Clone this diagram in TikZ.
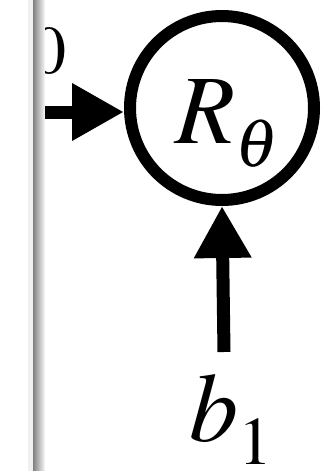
\documentclass[tikz,border=0pt]{standalone}
\usepackage{mathptmx}
\usetikzlibrary{arrows.meta}

\tikzset{
  bigarrow/.style={line width=6.5pt,-{Triangle[length=26pt,width=27pt]}},
  rotor/.style={circle,draw,line width=6pt,minimum size=92pt,inner sep=0pt},
  biglabel/.style={font=\fontsize{49}{56}\selectfont,inner sep=0pt,anchor=base west},
  sublabel/.style={font=\fontsize{34}{40}\selectfont,inner sep=0pt,anchor=base west},
}
\newcommand{\lowsub}[1]{\raisebox{-11.5pt}{\fontsize{34}{40}\selectfont$#1$}}

\begin{document}
\begin{tikzpicture}[x=0.5pt,y=-0.5pt]
\useasboundingbox (0,0) rectangle (323,471);

% ---------------- ROTATION NODE ----------------

\node[rotor] (R) at (222,108) {};
\node[biglabel] (Rlab) at (175,143) {$R$\lowsub{\theta}};

% ---------------- INPUTS ----------------

\coordinate (Lin) at (10,112);
\coordinate (Lend) at (124,112);
\draw[bigarrow] (Lin) -- (Lend);
\node[sublabel] (Lzero) at (32,73) {$0$};

\node[biglabel] (B) at (189,441) {$b$\lowsub{1}};
\coordinate (Bin) at (224,352);
\draw[bigarrow] (Bin) -- (R.south);

% ---------------- PAGE EDGE ----------------

\fill[white] (0,0) rectangle (28,471);
\fill[black!6] (28,0) rectangle (33,471);
\foreach \i in {0,...,11} {
  \pgfmathtruncatemacro{\shadeval}{50-4*\i}
  \fill[black!\shadeval] (33+\i,0) rectangle (34.2+\i,471);
}

\end{tikzpicture}
\end{document}
